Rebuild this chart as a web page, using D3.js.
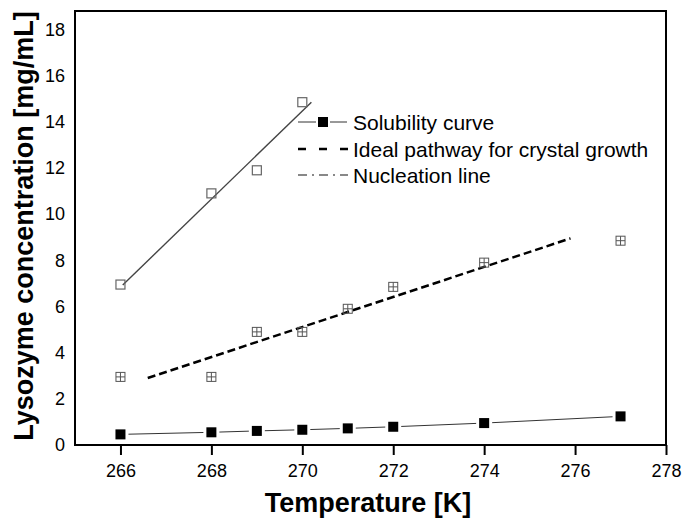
<!DOCTYPE html>
<html><head><meta charset="utf-8">
<script src="https://cdn.jsdelivr.net/npm/d3@7"></script>
<style>body{margin:0;background:#fff}svg{display:block;font-family:"Liberation Sans",Arial,sans-serif}</style>
</head><body><svg id="c" width="683" height="519"></svg>
<script>
// Data
const temps = [266, 268, 269, 270, 271, 272, 274, 277];
const solubility = [0.46, 0.55, 0.61, 0.66, 0.72, 0.79, 0.95, 1.24];
const idealPoints = [2.95, 2.95, 4.9, 4.9, 5.9, 6.85, 7.9, 8.85];
const nucTemps = [266, 268, 269, 270];
const nucPoints = [6.95, 10.9, 11.9, 14.85];
const nucLineT = [266.05, 270.2];
const nucLineC = [6.93, 14.85];
const idealLineT = [266.6, 275.9];
const idealLineC = [2.9, 8.95];
const xTicks = [266, 268, 270, 272, 274, 276, 278];
const yTicks = [0, 2, 4, 6, 8, 10, 12, 14, 16, 18];
const legendLabels = ["Solubility curve", "Ideal pathway for crystal growth", "Nucleation line"];

const svg = d3.select("#c");
const x = d3.scaleLinear().domain([265, 278]).range([75, 666]);
const y = d3.scaleLinear().domain([0, 18.8]).range([445, 11]);

// nucleation line
svg.append("line")
  .attr("x1", x(nucLineT[0])).attr("y1", y(nucLineC[0]))
  .attr("x2", x(nucLineT[1])).attr("y2", y(nucLineC[1]))
  .attr("stroke", "#444").attr("stroke-width", 1.4);
// ideal dashed line
svg.append("line")
  .attr("x1", x(idealLineT[0])).attr("y1", y(idealLineC[0]))
  .attr("x2", x(idealLineT[1])).attr("y2", y(idealLineC[1]))
  .attr("stroke", "#000").attr("stroke-width", 2.5).attr("stroke-dasharray", "8,4");

// solubility connecting segments with gaps
const gap = 8;
for (let i = 0; i < temps.length - 1; i++) {
  const x1 = x(temps[i]), y1 = y(solubility[i]), x2 = x(temps[i+1]), y2 = y(solubility[i+1]);
  const dx = x2 - x1, dy = y2 - y1, L = Math.hypot(dx, dy);
  svg.append("line")
    .attr("x1", x1 + dx / L * gap).attr("y1", y1 + dy / L * gap)
    .attr("x2", x2 - dx / L * gap).attr("y2", y2 - dy / L * gap)
    .attr("stroke", "#333").attr("stroke-width", 1);
}

// markers
const s1 = 10;
svg.selectAll(".sol").data(temps).join("rect")
  .attr("x", (d) => x(d) - s1 / 2).attr("y", (d, i) => y(solubility[i]) - s1 / 2)
  .attr("width", s1).attr("height", s1).attr("fill", "#000");

const s2 = 9;
const ig = svg.selectAll(".ideal").data(temps).join("g")
  .attr("transform", (d, i) => `translate(${x(d)},${y(idealPoints[i])})`);
ig.append("rect").attr("x", -s2/2).attr("y", -s2/2).attr("width", s2).attr("height", s2)
  .attr("fill", "none").attr("stroke", "#555").attr("stroke-width", 1);
ig.append("line").attr("x1", -s2/2).attr("x2", s2/2).attr("y1", 0).attr("y2", 0).attr("stroke", "#555");
ig.append("line").attr("y1", -s2/2).attr("y2", s2/2).attr("x1", 0).attr("x2", 0).attr("stroke", "#555");

svg.selectAll(".nuc").data(nucTemps).join("rect")
  .attr("x", (d) => x(d) - s2 / 2).attr("y", (d, i) => y(nucPoints[i]) - s2 / 2)
  .attr("width", s2).attr("height", s2).attr("fill", "none").attr("stroke", "#666").attr("stroke-width", 1.2);

// frame
svg.append("rect").attr("x", 75).attr("y", 11).attr("width", 591).attr("height", 434)
  .attr("fill", "none").attr("stroke", "#000").attr("stroke-width", 2);

// axes
const xAxis = svg.append("g").attr("transform", "translate(0,445)")
  .call(d3.axisBottom(x).tickValues(xTicks).tickSize(10).tickPadding(9).tickFormat(d3.format("d")));
xAxis.select(".domain").remove();
xAxis.selectAll("line").attr("stroke", "#000").attr("stroke-width", 2);
xAxis.selectAll("text").attr("font-size", 18).attr("fill", "#000").style("font-family", "Liberation Sans, Arial");

const yAxis = svg.append("g").attr("transform", "translate(75,0)")
  .call(d3.axisLeft(y).tickValues(yTicks).tickSize(0).tickPadding(10));
yAxis.select(".domain").remove();
yAxis.selectAll("text").attr("font-size", 18).attr("fill", "#000").style("font-family", "Liberation Sans, Arial");

// titles
svg.append("text").attr("x", 368).attr("y", 512).attr("text-anchor", "middle")
  .attr("font-size", 27).attr("font-weight", "bold").text("Temperature [K]");
svg.append("text").attr("transform", "translate(33,226) rotate(-90)").attr("text-anchor", "middle")
  .attr("font-size", 27).attr("font-weight", "bold").text("Lysozyme concentration [mg/mL]");

// legend
const lg = svg.append("g");
const ly = [122, 149, 175];
lg.append("line").attr("x1", 298).attr("x2", 316).attr("y1", ly[0]).attr("y2", ly[0]).attr("stroke", "#333");
lg.append("line").attr("x1", 330).attr("x2", 347).attr("y1", ly[0]).attr("y2", ly[0]).attr("stroke", "#333");
lg.append("rect").attr("x", 323 - 5).attr("y", ly[0] - 5).attr("width", 10).attr("height", 10).attr("fill", "#000");
lg.append("line").attr("x1", 298).attr("x2", 348).attr("y1", ly[1]).attr("y2", ly[1])
  .attr("stroke", "#000").attr("stroke-width", 2.5).attr("stroke-dasharray", "8,13");
lg.append("line").attr("x1", 298).attr("x2", 348).attr("y1", ly[2]).attr("y2", ly[2])
  .attr("stroke", "#888").attr("stroke-width", 2).attr("stroke-dasharray", "9,5,2,5");
lg.selectAll("text").data(legendLabels).join("text")
  .attr("x", 353).attr("y", (d, i) => ly[i]).attr("dy", "0.36em")
  .attr("font-size", 21).attr("fill", "#000").text((d) => d);
</script></body></html>
